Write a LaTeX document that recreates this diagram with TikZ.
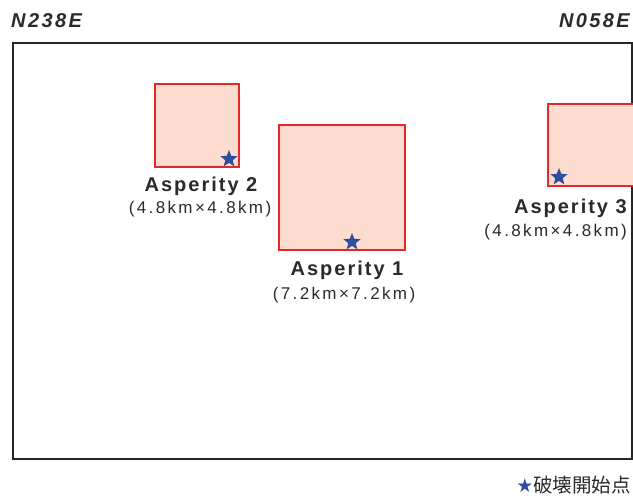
\documentclass[tikz,border=0pt]{standalone}
\usepackage{fontspec}
\setmainfont{Liberation Sans}
\newfontfamily\namefont[LetterSpace=10]{Liberation Sans}
\newfontfamily\sizefont[LetterSpace=14]{Liberation Sans}
\newfontfamily\dirfont[LetterSpace=12]{Liberation Sans}
\newfontfamily\cjkfont{Noto Sans CJK JP}
\newfontfamily\symfont{DejaVu Sans}
\usetikzlibrary{shapes.geometric}
\definecolor{aspfill}{HTML}{FBDCCE}
\definecolor{aspline}{HTML}{E8262A}
\definecolor{starblue}{HTML}{2F4F9E}
\definecolor{txtgray}{HTML}{2A2A2A}
\tikzset{
  asp/.style={draw=aspline, fill=aspfill, line width=2pt},
  epi/.style={star, star points=5, star point ratio=2.3, fill=starblue, draw=none, minimum size=18pt, inner sep=0pt},
  aname/.style={font=\namefont\bfseries\fontsize{20}{22}\selectfont, text=txtgray, inner sep=0pt},
  asize/.style={font=\sizefont\fontsize{17}{19}\selectfont, text=txtgray, inner sep=0pt},
  dirlbl/.style={font=\dirfont\bfseries\itshape\fontsize{20}{22}\selectfont, text=txtgray, inner sep=0pt},
}
\begin{document}
\begin{tikzpicture}[x=1pt,y=-1pt]
\useasboundingbox (0,0) rectangle (633,499);
% frame
\draw[line width=2.4pt, black!85] (13,43) rectangle (632,459);
\node[dirlbl, anchor=west] (n238) at (11,21) {N238E};
\node[dirlbl, anchor=east] (n058) at (630,21) {N058E};
% asperity 2
\draw[asp] (155,84) rectangle (239,167);
\node[epi] (s2) at (229,159) {};
\node[aname] (a2) at (201,186) {Asperity 2};
\node[asize] (a2s) at (200,209) {(4.8km×4.8km)};
% asperity 1
\draw[asp] (279,125) rectangle (405,250);
\node[epi] (s1) at (352,242) {};
\node[aname] (a1) at (347,270) {Asperity 1};
\node[asize] (a1s) at (344,295) {(7.2km×7.2km)};
% asperity 3
\draw[asp] (548,104) rectangle (634,186);
\node[epi] (s3) at (559,177) {};
\node[aname, anchor=east] (a3) at (627,208) {Asperity 3};
\node[asize, anchor=east] (a3s) at (627,232) {(4.8km×4.8km)};
% legend
\node[anchor=east, inner sep=0pt] (leg) at (631,485) {{\symfont\color{starblue}\fontsize{19}{20}\selectfont ★}{\cjkfont\fontsize{19.5}{20}\selectfont\color{txtgray}破壊開始点}};
\end{tikzpicture}
\end{document}
